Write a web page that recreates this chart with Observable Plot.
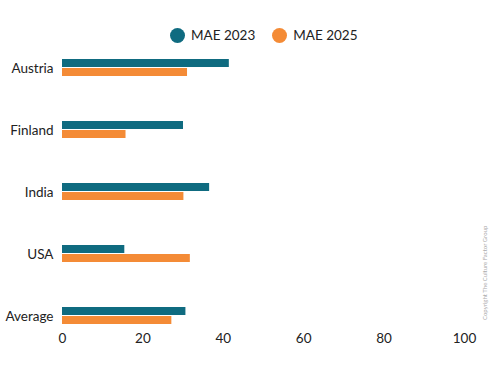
<!DOCTYPE html>
<html>
<head>
<meta charset="utf-8">
<script src="https://cdn.jsdelivr.net/npm/d3@7"></script>
<script src="https://cdn.jsdelivr.net/npm/@observablehq/plot@0.6"></script>
<style>
  html, body { margin: 0; padding: 0; background: #fff; }
  body { width: 494px; height: 370px; position: relative; overflow: hidden; font-family: Lato, "Open Sans", sans-serif; }
  #legend { height: 50px; display: flex; align-items: center; padding-top: 20px; box-sizing: border-box; padding-left: 170px; font-size: 13.5px; color: #222; }
  .item { display: flex; align-items: center; margin-right: 17px; }
  .sw { width: 15px; height: 15px; border-radius: 50%; margin-right: 6px; }
  #copy { position: absolute; left: 481px; top: 320px; transform: rotate(-90deg); transform-origin: 0 0; font-size: 6px; color: #aaa; white-space: nowrap; }
</style>
</head>
<body>
<div id="legend"></div>
<div id="chart"></div>
<div id="copy">Copyright The Culture Factor Group</div>
<script>
const countries = ["Austria", "Finland", "India", "USA", "Average"];
const seriesNames = ["MAE 2023", "MAE 2025"];
const mae2023 = [41.5, 30.1, 36.6, 15.5, 30.7];
const mae2025 = [31.1, 15.8, 30.2, 31.8, 27.2];
const xTicks = [0, 20, 40, 60, 80, 100];
const colors = ["#0f6b80", "#f48b36"];

const table = [];
countries.forEach((c, i) => {
  table.push({country: c, series: seriesNames[0], value: mae2023[i]});
  table.push({country: c, series: seriesNames[1], value: mae2025[i]});
});

const legend = document.getElementById("legend");
seriesNames.forEach((s, i) => {
  const it = document.createElement("div");
  it.className = "item";
  it.innerHTML = `<div class="sw" style="background:${colors[i]}"></div><span>${s}</span>`;
  legend.appendChild(it);
});

const chart = Plot.plot({
  width: 494,
  height: 320,
  marginLeft: 62,
  marginRight: 30,
  marginTop: 9,
  marginBottom: 45,
  style: {fontFamily: "Lato, 'Open Sans', sans-serif", fontSize: "13.5px", color: "#222", background: "#fff"},
  facet: {data: table, y: "country"},
  fy: {domain: countries, paddingInner: 0.71, paddingOuter: 0, label: null, tickSize: 0, tickPadding: 9},
  y: {domain: seriesNames, paddingInner: 0.06, paddingOuter: 0, axis: null},
  x: {domain: [0, 100], ticks: xTicks, tickSize: 0, tickPadding: 8, label: null},
  color: {domain: seriesNames, range: colors},
  marks: [
    Plot.barX(table, {x: "value", y: "series", fill: "series"})
  ]
});
document.getElementById("chart").appendChild(chart);
</script>
</body>
</html>
